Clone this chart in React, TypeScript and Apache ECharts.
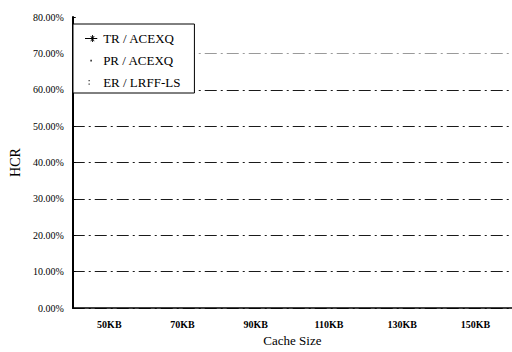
import React, { useEffect, useRef } from "react";
import * as echarts from "echarts";

const categories = ["50KB", "70KB", "90KB", "110KB", "130KB", "150KB"];
const seriesNames = ["TR / ACEXQ", "PR / ACEXQ", "ER / LRFF-LS"];
// No data line can be made out in the reference picture; the series are kept empty.
const trValues: (number | null)[] = [];
const prValues: (number | null)[] = [];
const erValues: (number | null)[] = [];
const yTicks = { min: 0, max: 80, interval: 10 };

const FONT = "Liberation Serif, Times New Roman, DejaVu Serif, serif";

export default function App() {
  const ref = useRef<HTMLDivElement>(null);
  useEffect(() => {
    document.body.style.margin = "0";
    const chart = echarts.init(ref.current!, null, { renderer: "svg" });
    const gridLine = {
      color: ["#1a1a1a", "#1a1a1a", "#1a1a1a", "#1a1a1a", "#1a1a1a", "#1a1a1a", "#1a1a1a", "#9a9a9a", "rgba(0,0,0,0)"],
      width: 1.2,
      type: [12, 4, 2, 4] as number[],
    };
    chart.setOption({
      animation: false,
      backgroundColor: "#ffffff",
      textStyle: { fontFamily: FONT },
      grid: { left: 68, right: 0, top: 17, bottom: 35, containLabel: false },
      legend: {
        orient: "vertical",
        left: 73,
        top: 24,
        padding: [8, 14, 4, 12],
        itemGap: 9,
        itemWidth: 14,
        itemHeight: 7,
        backgroundColor: "#ffffff",
        borderColor: "#000000",
        borderWidth: 1,
        textStyle: { fontFamily: FONT, fontSize: 13, color: "#000" },
        data: [
          { name: seriesNames[0], icon: "path://M0,3.5 L14,3.5 L14,4.5 L0,4.5 Z M8,0 L9,0 L9,8 L8,8 Z M6,1 L7,1 L11,7 L10,7 Z M10,1 L11,1 L7,7 L6,7 Z" },
          { name: seriesNames[1], icon: "path://M0,0 L0.01,0 L0,0.01 Z M6,3 L8,3 L8,5 L6,5 Z M14,8 L13.99,8 L14,7.99 Z" },
          { name: seriesNames[2], icon: "path://M0,0 L0.01,0 L0,0.01 Z M4,1 L5.5,1 L5.5,2.5 L4,2.5 Z M4,5 L5.5,5 L5.5,6.5 L4,6.5 Z M14,8 L13.99,8 L14,7.99 Z" },
        ],
      },
      xAxis: {
        type: "category",
        data: categories,
        boundaryGap: true,
        name: "Cache Size",
        nameLocation: "middle",
        nameGap: 26,
        nameTextStyle: { fontFamily: FONT, fontSize: 13, color: "#000" },
        axisLine: { show: true, lineStyle: { color: "#000", width: 1.5 } },
        axisTick: { show: false },
        axisLabel: { fontFamily: FONT, fontSize: 10, fontWeight: "bold", color: "#000", margin: 11 },
        splitLine: { show: false },
      },
      yAxis: {
        type: "value",
        min: yTicks.min,
        max: yTicks.max,
        interval: yTicks.interval,
        name: "HCR",
        nameLocation: "middle",
        nameGap: 48,
        nameTextStyle: { fontFamily: FONT, fontSize: 14, color: "#000" },
        axisLine: { show: true, lineStyle: { color: "#000", width: 2 } },
        axisTick: { show: true, inside: true, length: 3, lineStyle: { color: "#000", width: 1 } },
        axisLabel: {
          fontFamily: FONT,
          fontSize: 10,
          color: "#000",
          margin: 9,
          formatter: (v: number) => v.toFixed(2) + "%",
        },
        splitLine: { show: true, lineStyle: gridLine },
      },
      series: [
        { name: seriesNames[0], type: "line", data: trValues, symbol: "none", itemStyle: { color: "#000" }, lineStyle: { color: "#000", width: 1 } },
        { name: seriesNames[1], type: "line", data: prValues, symbol: "none", itemStyle: { color: "#444" }, lineStyle: { color: "#444", width: 1 } },
        { name: seriesNames[2], type: "line", data: erValues, symbol: "none", itemStyle: { color: "#444" }, lineStyle: { color: "#444", width: 1 } },
      ],
    });
    return () => chart.dispose();
  }, []);
  return <div ref={ref} style={{ width: 512, height: 352 }} />;
}
